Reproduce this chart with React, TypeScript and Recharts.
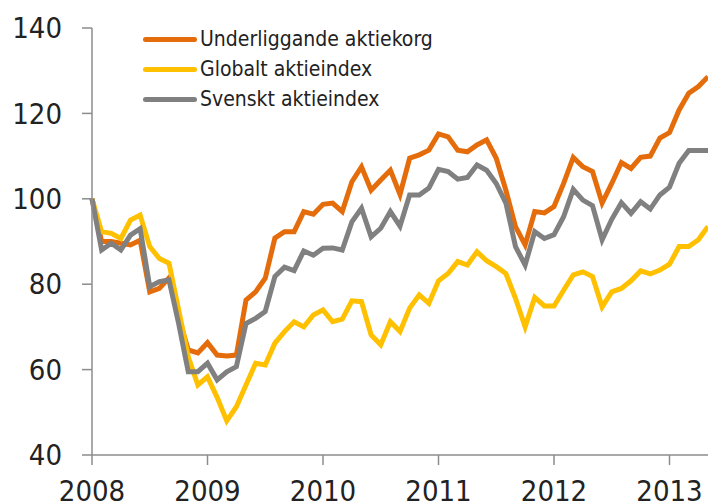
import React from 'react';
import { LineChart, Line, XAxis, YAxis, Legend } from 'recharts';

// monthly index values, Jan 2008 = 100
const underliggande = [
  100, 90, 90, 89.6, 89.2, 90.3, 78.2, 79, 81.5, 72.4, 64.6, 63.9,
  66.3, 63.4, 63.2, 63.4, 76.3, 78.2, 81.4, 90.8, 92.3, 92.3, 97, 96.4,
  98.7, 99, 97, 104, 107.5, 102, 104.4, 106.7, 101, 109.5, 110.3, 111.4,
  115.2, 114.5, 111.4, 111, 112.6, 113.8, 109.5, 102, 93.5, 89.2, 97, 96.7,
  98.2, 103.6, 109.7, 107.5, 106.4, 99, 103.6, 108.5, 107.1, 109.7, 110, 114.2,
  115.5, 120.8, 124.7, 126.3, 128.6,
];
const globalt = [
  100, 92.3, 91.9, 90.7, 95, 96.2, 88.8, 86, 84.9, 74, 63, 56.4,
  58.3, 53.5, 48, 51.3, 56.4, 61.5, 61.1, 66.2, 68.9, 71.2, 70, 72.8,
  74, 71.2, 71.8, 76.1, 75.9, 68.1, 65.8, 71.2, 68.9, 74.4, 77.5, 75.5,
  80.8, 82.5, 85.3, 84.5, 87.6, 85.5, 84.1, 82.5, 76.7, 70, 76.9, 74.9,
  74.9, 78.6, 82.2, 82.9, 81.8, 74.7, 78.2, 79, 80.8, 83.1, 82.4, 83.3,
  84.7, 88.8, 88.8, 90.4, 93.5,
];
const svenskt = [
  100, 88, 89.6, 88, 91.5, 93, 79.4, 80.6, 81, 70.8, 59.5, 59.5,
  61.5, 57.6, 59.5, 60.7, 70.8, 72, 73.6, 81.8, 84, 83.2, 87.8, 86.8,
  88.4, 88.5, 88, 94.6, 97.8, 91.1, 93.1, 97, 93.6, 100.9, 100.9, 102.5,
  106.9, 106.4, 104.6, 105, 107.9, 106.7, 103.6, 99, 88.8, 84.5, 92.3, 90.7,
  91.6, 95.8, 102.2, 99.7, 98.4, 90.4, 95.2, 99.1, 96.6, 99.3, 97.6, 100.9,
  102.7, 108.3, 111.3, 111.3, 111.3,
];
const years = ['2008', '2009', '2010', '2011', '2012', '2013'];
const yTicks = [40, 60, 80, 100, 120, 140];

const series = [
  { key: 'u', name: 'Underliggande aktiekorg', color: '#E46C0A' },
  { key: 'g', name: 'Globalt aktieindex', color: '#FFC000' },
  { key: 's', name: 'Svenskt aktieindex', color: '#808080' },
];

const data = underliggande.map((v, i) => ({ m: i, u: v, g: globalt[i], s: svenskt[i] }));

const font = "'Liberation Sans Narrow', 'DejaVu Sans Condensed', 'Open Sans', sans-serif";
const axisColor = '#8c8c8c';

const LegendBox = () => (
  <div style={{ fontFamily: font, fontSize: 21, color: '#222', lineHeight: '30px' }}>
    {series.map((s) => (
      <div key={s.key} style={{ display: 'flex', alignItems: 'center' }}>
        <span style={{ display: 'inline-block', width: 54, height: 5, borderRadius: 3, background: s.color, marginRight: 3 }} />
        <span>{s.name}</span>
      </div>
    ))}
  </div>
);

export default function App() {
  return (
    <div style={{ position: 'fixed', left: 0, top: 0, width: 708, height: 504, background: '#fff' }}>
      <LineChart width={708} height={504} data={data} margin={{ top: 28, right: 0, bottom: 0, left: 0 }}>
        <XAxis
          dataKey="m"
          type="number"
          domain={[0, 64]}
          ticks={[0, 12, 24, 36, 48, 60]}
          tickFormatter={(v: number) => years[v / 12]}
          height={49}
          tickSize={10}
          tickMargin={15}
          stroke={axisColor}
          strokeWidth={1.5}
          tick={{ fill: '#222', fontSize: 29, fontFamily: font }}
          interval={0}
        />
        <YAxis
          domain={[40, 140]}
          ticks={yTicks}
          width={92}
          tickSize={10}
          tickMargin={20}
          stroke={axisColor}
          strokeWidth={1.5}
          tick={{ fill: '#222', fontSize: 29, fontFamily: font }}
          interval={0}
        />
        <Legend
          layout="vertical"
          verticalAlign="middle"
          align="center"
          content={<LegendBox />}
          wrapperStyle={{ left: 143, top: 24, width: 320 }}
        />
        {series.map((s) => (
          <Line
            key={s.key}
            dataKey={s.key}
            name={s.name}
            type="linear"
            stroke={s.color}
            strokeWidth={5}
            dot={false}
            activeDot={false}
            isAnimationActive={false}
          />
        ))}
      </LineChart>
    </div>
  );
}
